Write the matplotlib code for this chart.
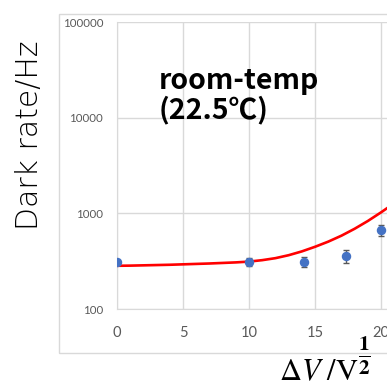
import matplotlib
matplotlib.use("Agg")
import matplotlib.pyplot as plt
from matplotlib.patches import Rectangle
from matplotlib.ticker import FixedLocator, FuncFormatter, NullLocator

plt.rcParams.update({'font.family': ['Lato', 'DejaVu Sans'], 'mathtext.fontset': 'stix'})

# measured points
dv = [0, 10, 14.14, 17.32, 20]
rate = [312, 312, 310, 355, 664]
rate_err = [10, 28, 37, 55, 90]

# fit curve
fit_dv = [0, 1, 2, 3, 4, 5, 6, 7, 8, 9, 10, 11, 12, 13, 14, 15, 16, 17, 18, 19, 20, 20.5]
fit_rate = [283, 284, 286, 288, 290, 293, 296, 299, 303, 307, 313, 324, 340, 365, 400,
            447, 506, 584, 690, 832, 1024, 1143]

yticks = [100, 1000, 10000, 100000]
xticks = [0, 5, 10, 15, 20]

fig = plt.figure(figsize=(3.87, 3.85), dpi=100)
# chart frame
fig.patches.append(Rectangle((59 / 387, 1 - 353 / 385), 1.0, (353 - 14) / 385,
                             transform=fig.transFigure, fill=False,
                             edgecolor='#d9d9d9', linewidth=1.0))

ax = fig.add_axes([117 / 387, 1 - 309 / 385, 1 - 117 / 387, (309 - 22) / 385])
ax.set_yscale('log')
ax.set_ylim(100, 100000)
ax.set_xlim(0, 20.45)

ax.plot(fit_dv, fit_rate, color='#ff0000', linewidth=1.9, zorder=3)
ax.errorbar(dv, rate, yerr=rate_err, fmt='o', color='#4472c4', markersize=5.8,
            ecolor='#595959', elinewidth=1.0, capsize=2.5, capthick=1.0, zorder=4)

ax.yaxis.set_major_locator(FixedLocator(yticks))
ax.yaxis.set_minor_locator(NullLocator())
ax.yaxis.set_major_formatter(FuncFormatter(lambda v, p: f"{int(v)}"))
ax.set_xticks(xticks)
ax.grid(True, color='#d9d9d9', linewidth=1.0)
ax.set_axisbelow(True)
for s in ['top', 'right']:
    ax.spines[s].set_visible(False)
for s in ['left', 'bottom']:
    ax.spines[s].set_color('#d9d9d9')
ax.tick_params(axis='both', length=0, colors='#595959')
ax.tick_params(axis='y', labelsize=8.3, pad=10)
ax.tick_params(axis='x', labelsize=10.5, pad=12)

ax.text(159 / 387, 1 - 118 / 385, "room-temp\n(22.5℃)", transform=fig.transFigure,
        fontsize=20.5, fontweight='bold', family=['Noto Sans CJK JP', 'DejaVu Sans'],
        ha='left', va='baseline', linespacing=1.0)

fig.text(30 / 387, 1 - 135 / 385, "Dark rate/Hz", rotation=90, fontsize=21.5,
         fontweight='light', family=['DejaVu Sans'],
         ha='center', va='center', color='black')

fig.text(279 / 387, 1 - 380 / 385, r'$\Delta V\ /\mathrm{V}$',
         fontsize=22, ha='left', va='baseline')
fig.text(364 / 387, 1 - 356 / 385, r'$\mathbf{\frac{1}{2}}$',
         fontsize=22, ha='center', va='center')

fig.savefig("out.png", dpi=100)
